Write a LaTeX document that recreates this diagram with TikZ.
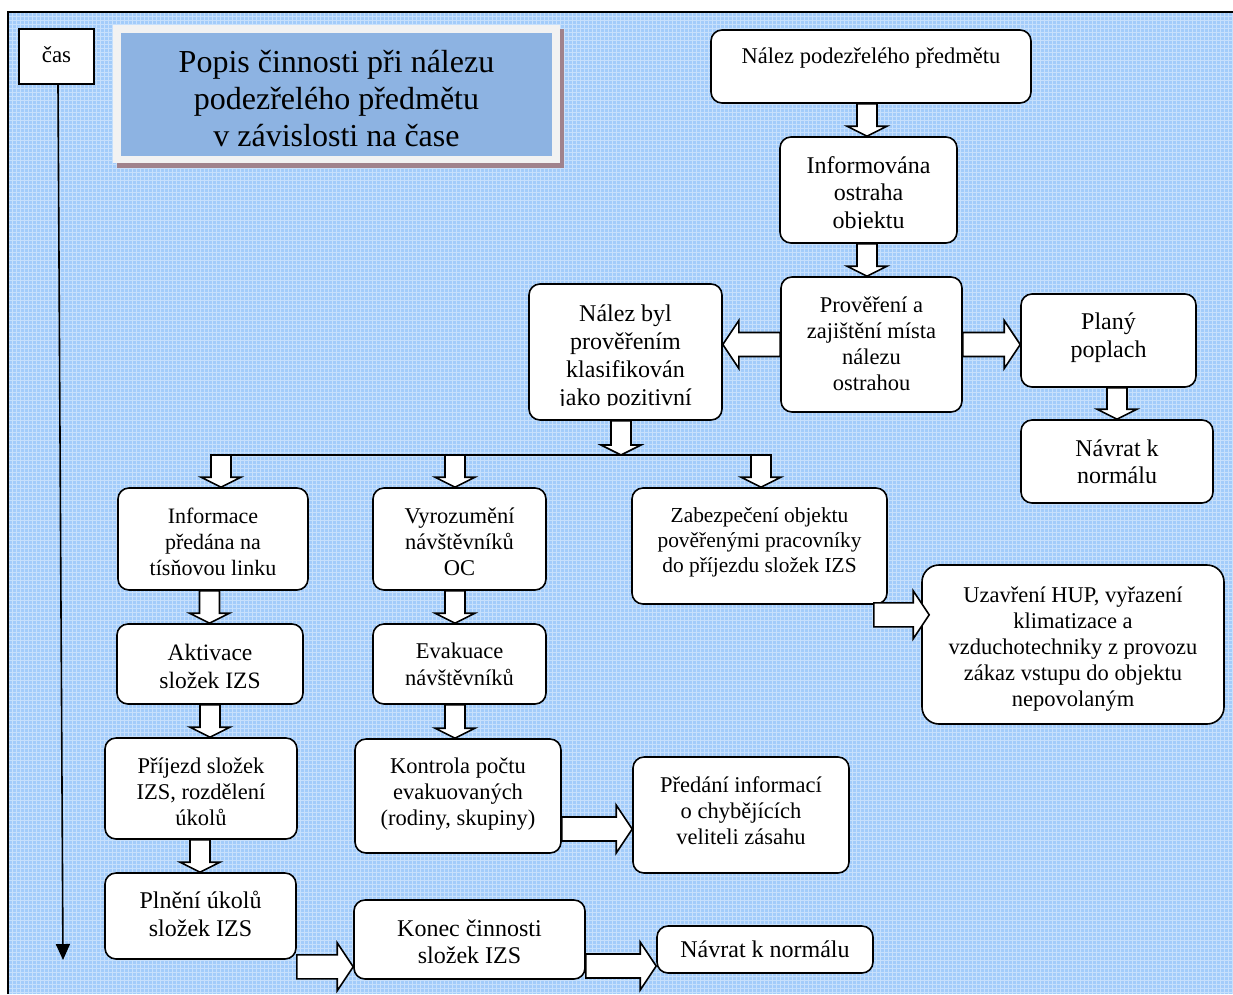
\documentclass[tikz,border=0pt]{standalone}
\usepackage{fontspec}
\setmainfont{Liberation Serif}
\usetikzlibrary{calc,arrows.meta}
\definecolor{bgblue}{RGB}{163,204,250}
\definecolor{titleblue}{RGB}{141,179,226}
\definecolor{titleframe}{RGB}{242,242,242}
\definecolor{titleshadow}{RGB}{160,130,140}
\newcommand\fs[2]{\fontsize{#1}{#2}\selectfont}

\begin{document}
\begin{tikzpicture}[x=1pt,y=-1pt,
  box/.style={draw, line width=1.6pt, fill=white, rounded corners=11pt, inner sep=0pt},
  % text of a box: name, font, vertical offset, lines
  txt/.style n args={4}{path picture={
    \node[name=#1, align=center, inner sep=0pt, font=#2]
      at ([yshift=#3]path picture bounding box.center) {#4};}},
  % same, but the text area stops short of the bottom edge
  ctxt/.style n args={4}{path picture={
    \clip ([yshift=15pt]path picture bounding box.south west)
      rectangle ([yshift=5pt]path picture bounding box.north east);
    \node[name=#1, align=center, inner sep=0pt, font=#2]
      at ([yshift=#3]path picture bounding box.center) {#4};}},
  blk/.style={draw, line width=1.6pt, fill=white, line join=miter},
  % vertical block arrow: x taken from the start point
  darrow/.style={blk, to path={let \p1=(\tikztostart), \p2=(\tikztotarget) in
    (\x1-10pt,\y1) -- (\x1+10pt,\y1) -- (\x1+10pt,\y2+10pt) -- (\x1+20pt,\y2+10pt)
    -- (\x1,\y2) -- (\x1-20pt,\y2+10pt) -- (\x1-10pt,\y2+10pt) -- cycle}},
  % horizontal block arrows: y taken from the start point
  rarrow/.style={blk, to path={let \p1=(\tikztostart), \p2=(\tikztotarget) in
    (\x1,\y1+12pt) -- (\x2-16pt,\y1+12pt) -- (\x2-16pt,\y1+24pt) -- (\x2,\y1)
    -- (\x2-16pt,\y1-24pt) -- (\x2-16pt,\y1-12pt) -- (\x1,\y1-12pt) -- cycle}},
  larrow/.style={blk, to path={let \p1=(\tikztostart), \p2=(\tikztotarget) in
    (\x1,\y1+12pt) -- (\x2+16pt,\y1+12pt) -- (\x2+16pt,\y1+24pt) -- (\x2,\y1)
    -- (\x2+16pt,\y1-24pt) -- (\x2+16pt,\y1-12pt) -- (\x1,\y1-12pt) -- cycle}},
]
\useasboundingbox (0,0) rectangle (1233,994);

% background sheet with fine grid
\fill[bgblue] (8,12) rectangle (1233,994);
\begin{scope}[y=1pt]
  \draw[white, opacity=.4, line width=1pt, step=4pt] (8,-994) grid (1233,-12);
\end{scope}
\draw[line width=1.3pt] (8,994) -- (8,12) -- (1233,12);

% title panel
\fill[titleshadow] (117,29) rectangle (564,168);
\node[fill=titleframe, minimum width=447, minimum height=138, inner sep=0pt] (tframe) at (336.5,94) {};
\node[fill=titleblue, minimum width=431, minimum height=123, inner sep=0pt,
  txt={titletext}{\fs{32}{37}}{-4.5pt}{Popis činnosti při nálezu\\podezřelého předmětu\\v závislosti na čase}]
  (title) at (336.5,94.5) {};

% time axis
\node[draw, line width=1.6pt, fill=white, minimum width=75, minimum height=55, inner sep=0pt,
  txt={castext}{\fs{23}{27}}{2pt}{čas}] (cas) at (56.5,56.5) {};
\coordinate (tend) at (63,960);
\draw[line width=1.6pt, -{Triangle[length=16pt,width=14pt]}] ([xshift=1.5pt]cas.south) -- (tend);

% boxes
\node[box, minimum width=320, minimum height=73,
  txt={n1t}{\fs{22.5}{26}}{8pt}{Nález podezřelého předmětu}] (n1) at (871,66.5) {};
\node[box, minimum width=177, minimum height=106,
  ctxt={n2t}{\fs{24}{27.5}}{-5pt}{Informována\\ostraha\\objektu}] (n2) at (868.5,190) {};
\node[box, minimum width=181, minimum height=135,
  txt={n3t}{\fs{22.5}{26}}{1pt}{Prověření a\\zajištění místa\\nálezu\\ostrahou}] (n3) at (871.5,344.5) {};
\node[box, minimum width=193, minimum height=136,
  ctxt={n4t}{\fs{24}{28}}{-5.5pt}{Nález byl\\prověřením\\klasifikován\\jako pozitivní}] (n4) at (625.5,352) {};
\node[box, minimum width=175, minimum height=93,
  txt={n5t}{\fs{24}{28}}{2.5pt}{Planý\\poplach}] (n5) at (1108.5,340.5) {};
\node[box, minimum width=192, minimum height=83,
  txt={n6t}{\fs{24}{27}}{0pt}{Návrat k\\normálu}] (n6) at (1117,461.5) {};
\node[box, minimum width=190, minimum height=102,
  txt={n7t}{\fs{22}{26}}{-3pt}{Informace\\předána na\\tísňovou linku}] (n7) at (213,539) {};
\node[box, minimum width=173, minimum height=102,
  txt={n8t}{\fs{22.5}{26}}{-3pt}{Vyrozumění\\návštěvníků\\OC}] (n8) at (459.5,539) {};
\node[box, minimum width=255, minimum height=116,
  txt={n9t}{\fs{21.4}{25}}{4pt}{Zabezpečení objektu\\pověřenými pracovníky\\do příjezdu složek IZS}] (n9) at (759.5,546) {};
\node[box, rounded corners=17pt, minimum width=302, minimum height=159,
  txt={n10t}{\fs{22.5}{26}}{-5pt}{Uzavření HUP, vyřazení\\klimatizace a\\vzduchotechniky z provozu\\zákaz vstupu do objektu\\nepovolaným}] (n10) at (1073,644.5) {};
\node[box, minimum width=186, minimum height=80,
  txt={n11t}{\fs{23.5}{28}}{-2pt}{Aktivace\\složek IZS}] (n11) at (210,664) {};
\node[box, minimum width=173, minimum height=80,
  txt={n12t}{\fs{22.5}{27}}{0pt}{Evakuace\\návštěvníků}] (n12) at (459.5,664) {};
\node[box, minimum width=192, minimum height=101,
  txt={n13t}{\fs{22.5}{26}}{-3pt}{Příjezd složek\\IZS, rozdělení\\úkolů}] (n13) at (201,788.5) {};
\node[box, minimum width=206, minimum height=114,
  txt={n14t}{\fs{22.5}{26}}{2pt}{Kontrola počtu\\evakuovaných\\(rodiny, skupiny)}] (n14) at (458,796) {};
\node[box, minimum width=216, minimum height=116,
  txt={n15t}{\fs{22.5}{26}}{4pt}{Předání informací\\o chybějících\\veliteli zásahu}] (n15) at (741,815) {};
\node[box, minimum width=191, minimum height=86,
  txt={n16t}{\fs{24}{28}}{2pt}{Plnění úkolů\\složek IZS}] (n16) at (200.5,916) {};
\node[box, minimum width=231, minimum height=79,
  txt={n17t}{\fs{24}{27}}{-2pt}{Konec činnosti\\složek IZS}] (n17) at (469.5,939.5) {};
\node[box, minimum width=216, minimum height=47,
  txt={n18t}{\fs{24}{28}}{0pt}{Návrat k normálu}] (n18) at (765,949.5) {};

% branching bar below the positive finding
\coordinate (bl) at (211,455);
\coordinate (br) at (771,455);
\coordinate (b7) at (221,455);
\coordinate (b8) at (455,455);
\coordinate (b9) at (761,455);
\draw[line width=1.6pt] (bl) -- (br);

% block arrows
\draw[darrow] ([xshift=-4pt]n1.south) to (n2.north);
\draw[darrow] ([xshift=-1.5pt]n2.south) to (n3.north);
\draw[larrow] (n3.west) to (n4.east);
\draw[rarrow] (n3.east) to (n5.west);
\draw[darrow] ([xshift=8.5pt]n5.south) to (n6.north);
\draw[darrow] ([xshift=-4.5pt]n4.south) to (b8 -| n4.south);
\draw[darrow] (b7) to (n7.north);
\draw[darrow] (b8) to (n8.north);
\draw[darrow] (b9) to (n9.north);
\draw[darrow] ([xshift=-3.5pt]n7.south) to (n11.north);
\draw[darrow] (n11.south) to (n13.north);
\draw[darrow] ([xshift=-1pt]n13.south) to (n16.north);
\draw[darrow] ([xshift=-4.5pt]n8.south) to (n12.north);
\draw[darrow] ([xshift=-4.5pt]n12.south) to (n14.north);
\draw[rarrow] ([xshift=-14pt,yshift=-10pt]n9.south east) to ([xshift=8pt]n10.west);
\draw[rarrow] ([yshift=-33pt]n14.east) to (n15.west);
\draw[rarrow] ([yshift=-7pt]n16.south east) to (n17.west);
\draw[rarrow] ([yshift=-26.5pt]n17.east) to (n18.west);
\end{tikzpicture}
\end{document}
